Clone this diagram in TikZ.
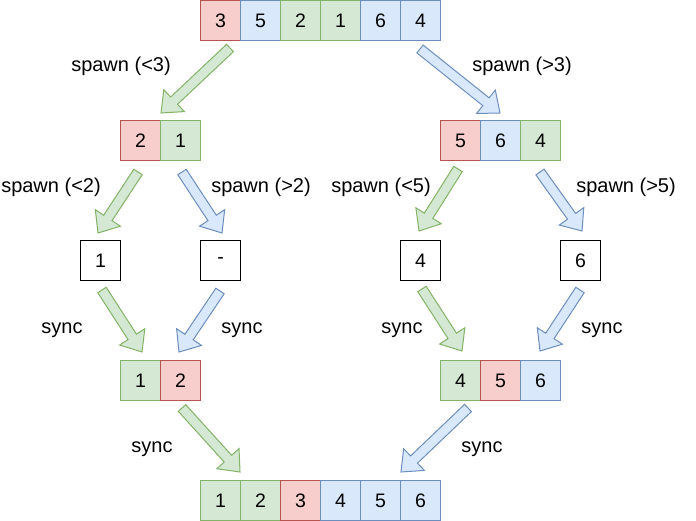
\documentclass[tikz,border=0pt]{standalone}
\usepackage{fontspec}
\setmainfont{Liberation Sans}
\usetikzlibrary{calc}
\definecolor{gfill}{HTML}{D5E8D4}\definecolor{gline}{HTML}{82B366}
\definecolor{bfill}{HTML}{DAE8FC}\definecolor{bline}{HTML}{6C8EBF}
\definecolor{rfill}{HTML}{F8CECC}\definecolor{rline}{HTML}{B85450}
\tikzset{
  cell/.style={draw, line width=1pt, minimum size=40pt, inner sep=0pt, anchor=north west, font=\fontsize{19.5}{22}\selectfont},
  gc/.style={cell, fill=gfill, draw=gline},
  bc/.style={cell, fill=bfill, draw=bline},
  rc/.style={cell, fill=rfill, draw=rline},
  wc/.style={cell, fill=white, draw=black},
  lbl/.style={font=\fontsize{20}{22}\selectfont, inner sep=0pt, anchor=base},
  garrow/.style={fill=gfill, draw=gline, line width=1pt, line join=miter},
  barrow/.style={fill=bfill, draw=bline, line width=1pt, line join=miter},
}
\newcommand\fatarrow[3]{%
  \coordinate (hb) at ($(#3)!18pt!(#2)$);
  \draw[#1] ($(#2)!5pt!90:(#3)$) -- ($(hb)!5pt!90:(#3)$) -- ($(hb)!15pt!90:(#3)$) -- (#3)
    -- ($(hb)!15pt!-90:(#3)$) -- ($(hb)!5pt!-90:(#3)$) -- ($(#2)!5pt!-90:(#3)$) -- cycle;}
\begin{document}
\begin{tikzpicture}[x=1pt,y=-1pt]
\useasboundingbox (0,0) rectangle (696,521);
% row 0
\node[rc] (a1) at (200,0) {3};
\node[bc] (a2) at (240,0) {5};
\node[gc] (a3) at (280,0) {2};
\node[gc] (a4) at (320,0) {1};
\node[bc] (a5) at (360,0) {6};
\node[bc] (a6) at (400,0) {4};
% row 1
\node[rc] (b1) at (120,120) {2};
\node[gc] (b2) at (160,120) {1};
\node[rc] (c1) at (440,120) {5};
\node[bc] (c2) at (480,120) {6};
\node[gc] (c3) at (520,120) {4};
% row 2
\node[wc] (d1) at (80,240) {1};
\node[wc] (d2) at (200,240) {-};
\node[wc] (d3) at (400,240) {4};
\node[wc] (d4) at (560,240) {6};
% row 3
\node[gc] (e1) at (120,360) {1};
\node[rc] (e2) at (160,360) {2};
\node[gc] (f1) at (440,360) {4};
\node[rc] (f2) at (480,360) {5};
\node[bc] (f3) at (520,360) {6};
% row 4
\node[gc] (g1) at (200,480) {1};
\node[gc] (g2) at (240,480) {2};
\node[rc] (g3) at (280,480) {3};
\node[bc] (g4) at (320,480) {4};
\node[bc] (g5) at (360,480) {5};
\node[bc] (g6) at (400,480) {6};
% arrow end points
\coordinate (t1) at (230,48);  \coordinate (h1) at (161,113);
\coordinate (t2) at (420,49);  \coordinate (h2) at (500,113);
\coordinate (t3) at (138,172); \coordinate (h3) at (98,233);
\coordinate (t4) at (182,172); \coordinate (h4) at (222,233);
\coordinate (t5) at (458,169); \coordinate (h5) at (419,231);
\coordinate (t6) at (540,172); \coordinate (h6) at (582,231);
\coordinate (t7) at (102,290); \coordinate (h7) at (142,352);
\coordinate (t8) at (220,291); \coordinate (h8) at (179,352);
\coordinate (t9) at (422,289); \coordinate (h9) at (462,351);
\coordinate (t10) at (580,290); \coordinate (h10) at (540,351);
\coordinate (t11) at (182,408); \coordinate (h11) at (240,472);
\coordinate (t12) at (468,408); \coordinate (h12) at (401,472);
\fatarrow{garrow}{t1}{h1}
\fatarrow{barrow}{t2}{h2}
\fatarrow{garrow}{t3}{h3}
\fatarrow{barrow}{t4}{h4}
\fatarrow{garrow}{t5}{h5}
\fatarrow{barrow}{t6}{h6}
\fatarrow{garrow}{t7}{h7}
\fatarrow{barrow}{t8}{h8}
\fatarrow{garrow}{t9}{h9}
\fatarrow{barrow}{t10}{h10}
\fatarrow{garrow}{t11}{h11}
\fatarrow{barrow}{t12}{h12}
% labels
\node[lbl] (l1) at (121,72) {spawn (<3)};
\node[lbl] (l2) at (522,72) {spawn (>3)};
\node[lbl] (l3) at (51,193) {spawn (<2)};
\node[lbl] (l4) at (261,193) {spawn (>2)};
\node[lbl] (l5) at (381,193) {spawn (<5)};
\node[lbl] (l6) at (626,193) {spawn (>5)};
\node[lbl] (l7) at (62,334) {sync};
\node[lbl] (l8) at (242,334) {sync};
\node[lbl] (l9) at (402,334) {sync};
\node[lbl] (l10) at (602,334) {sync};
\node[lbl] (l11) at (152,452) {sync};
\node[lbl] (l12) at (482,452) {sync};
\end{tikzpicture}
\end{document}
